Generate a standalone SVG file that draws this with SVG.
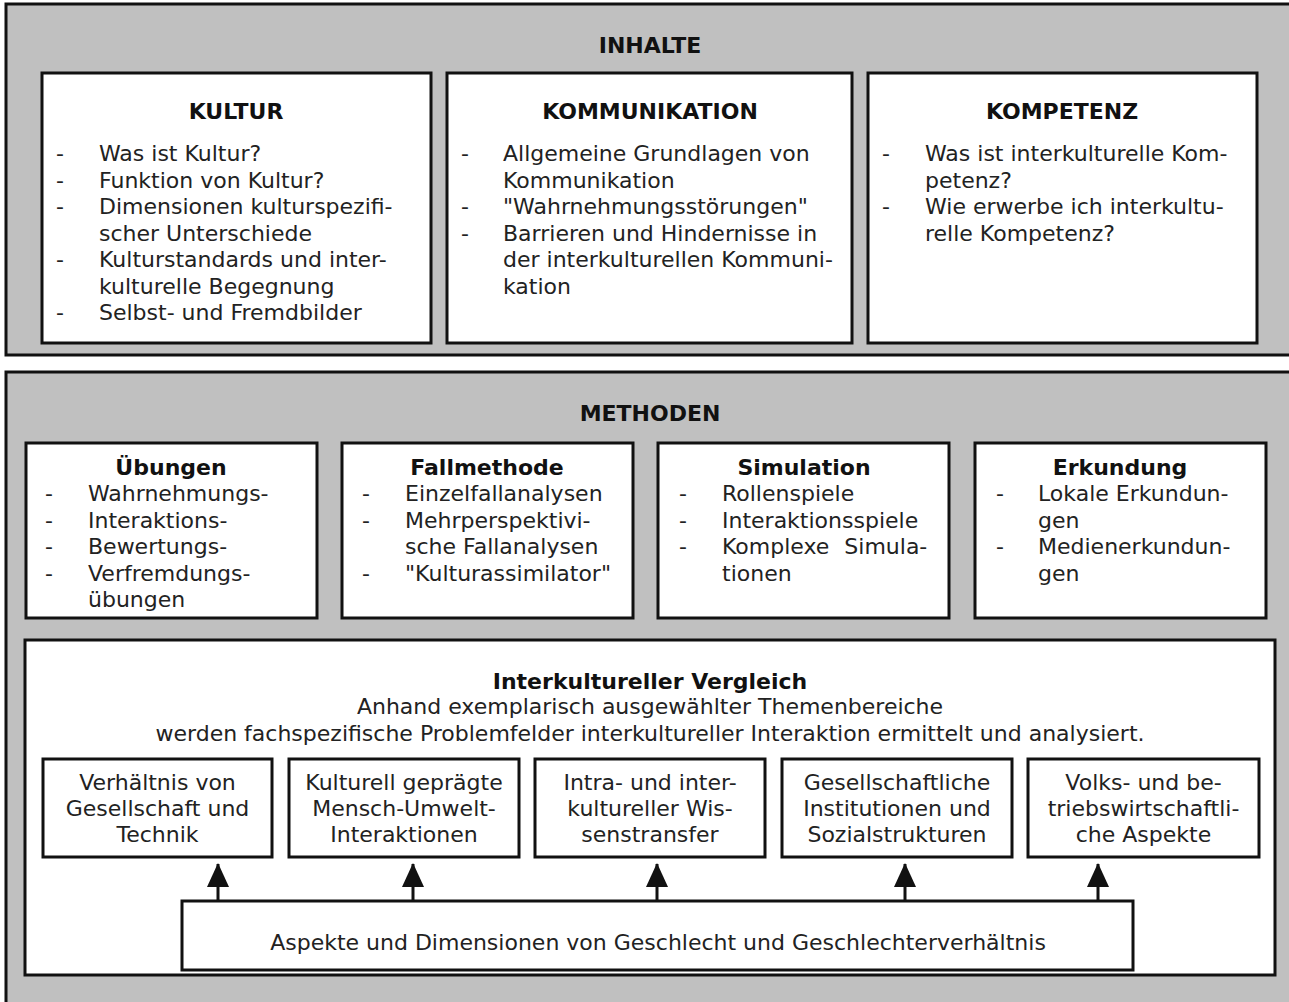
<svg xmlns="http://www.w3.org/2000/svg" width="1289" height="1002" viewBox="0 0 1289 1002">
<style>
.outer{fill:#c0c0c0;stroke:#111;stroke-width:3}
.box{fill:#fff;stroke:#111;stroke-width:3}
text{font-family:"DejaVu Sans","Verdana",sans-serif;font-size:22px;fill:#222}
.t{font-weight:bold;fill:#111;text-anchor:middle}
.c{text-anchor:middle}
.conn line{stroke:#111;stroke-width:3}
</style>
<defs>
<marker id="arr" markerUnits="userSpaceOnUse" markerWidth="24" markerHeight="22" refX="23" refY="11" orient="auto" viewBox="0 0 24 22">
<path d="M0 0 L24 11 L0 22 Z" fill="#111"/>
</marker>
</defs>
<rect width="1289" height="1002" fill="#fff"/>

<g id="inhalte">
<rect class="outer" x="6" y="4" width="1300" height="351"/>
<text class="t" x="650" y="53">INHALTE</text>
</g>

<g id="kultur">
<rect class="box" x="42" y="73" width="389" height="270"/>
<text class="t" x="236" y="119">KULTUR</text>
<text x="56" y="161">-</text><text x="99" y="161">Was ist Kultur?</text>
<text x="56" y="187.5">-</text><text x="99" y="187.5">Funktion von Kultur?</text>
<text x="56" y="214">-</text><text x="99" y="214">Dimensionen kulturspezifi-</text>
<text x="99" y="240.5">scher Unterschiede</text>
<text x="56" y="267">-</text><text x="99" y="267">Kulturstandards und inter-</text>
<text x="99" y="293.5">kulturelle Begegnung</text>
<text x="56" y="320">-</text><text x="99" y="320">Selbst- und Fremdbilder</text>
</g>

<g id="kommunikation">
<rect class="box" x="447" y="73" width="405" height="270"/>
<text class="t" x="650" y="119">KOMMUNIKATION</text>
<text x="461" y="161">-</text><text x="503" y="161">Allgemeine Grundlagen von</text>
<text x="503" y="187.5">Kommunikation</text>
<text x="461" y="214">-</text><text x="503" y="214">"Wahrnehmungsstörungen"</text>
<text x="461" y="240.5">-</text><text x="503" y="240.5">Barrieren und Hindernisse in</text>
<text x="503" y="267">der interkulturellen Kommuni-</text>
<text x="503" y="293.5">kation</text>
</g>

<g id="kompetenz">
<rect class="box" x="868" y="73" width="389" height="270"/>
<text class="t" x="1062" y="119">KOMPETENZ</text>
<text x="882" y="161">-</text><text x="925" y="161">Was ist interkulturelle Kom-</text>
<text x="925" y="187.5">petenz?</text>
<text x="882" y="214">-</text><text x="925" y="214">Wie erwerbe ich interkultu-</text>
<text x="925" y="240.5">relle Kompetenz?</text>
</g>

<g id="methoden">
<rect class="outer" x="6" y="372" width="1300" height="700"/>
<text class="t" x="650" y="421">METHODEN</text>
</g>

<g id="uebungen">
<rect class="box" x="26" y="443" width="291" height="175"/>
<text class="t" x="171" y="475">Übungen</text>
<text x="45" y="501">-</text><text x="88" y="501">Wahrnehmungs-</text>
<text x="45" y="527.5">-</text><text x="88" y="527.5">Interaktions-</text>
<text x="45" y="554">-</text><text x="88" y="554">Bewertungs-</text>
<text x="45" y="580.5">-</text><text x="88" y="580.5">Verfremdungs-</text>
<text x="88" y="607">übungen</text>
</g>

<g id="fallmethode">
<rect class="box" x="342" y="443" width="291" height="175"/>
<text class="t" x="487" y="475">Fallmethode</text>
<text x="362" y="501">-</text><text x="405" y="501">Einzelfallanalysen</text>
<text x="362" y="527.5">-</text><text x="405" y="527.5">Mehrperspektivi-</text>
<text x="405" y="554">sche Fallanalysen</text>
<text x="362" y="580.5">-</text><text x="405" y="580.5">"Kulturassimilator"</text>
</g>

<g id="simulation">
<rect class="box" x="658" y="443" width="291" height="175"/>
<text class="t" x="804" y="475">Simulation</text>
<text x="679" y="501">-</text><text x="722" y="501">Rollenspiele</text>
<text x="679" y="527.5">-</text><text x="722" y="527.5">Interaktionsspiele</text>
<text x="679" y="554">-</text><text x="722" y="554" word-spacing="8">Komplexe Simula-</text>
<text x="722" y="580.5">tionen</text>
</g>

<g id="erkundung">
<rect class="box" x="975" y="443" width="291" height="175"/>
<text class="t" x="1120" y="475">Erkundung</text>
<text x="996" y="501">-</text><text x="1038" y="501">Lokale Erkundun-</text>
<text x="1038" y="527.5">gen</text>
<text x="996" y="554">-</text><text x="1038" y="554">Medienerkundun-</text>
<text x="1038" y="580.5">gen</text>
</g>

<g id="vergleich">
<rect class="box" x="25" y="640" width="1250" height="335"/>
<text class="t" x="650" y="689">Interkultureller Vergleich</text>
<text class="c" x="650" y="714">Anhand exemplarisch ausgewählter Themenbereiche</text>
<text class="c" x="650" y="741">werden fachspezifische Problemfelder interkultureller Interaktion ermittelt und analysiert.</text>
</g>

<g id="thema1">
<rect class="box" x="43" y="759" width="229" height="98"/>
<text class="c" x="157.5" y="790">Verhältnis von</text>
<text class="c" x="157.5" y="816">Gesellschaft und</text>
<text class="c" x="157.5" y="842">Technik</text>
</g>
<g id="thema2">
<rect class="box" x="289" y="759" width="230" height="98"/>
<text class="c" x="404" y="790">Kulturell geprägte</text>
<text class="c" x="404" y="816">Mensch-Umwelt-</text>
<text class="c" x="404" y="842">Interaktionen</text>
</g>
<g id="thema3">
<rect class="box" x="535" y="759" width="230" height="98"/>
<text class="c" x="650" y="790">Intra- und inter-</text>
<text class="c" x="650" y="816">kultureller Wis-</text>
<text class="c" x="650" y="842">senstransfer</text>
</g>
<g id="thema4">
<rect class="box" x="782" y="759" width="230" height="98"/>
<text class="c" x="897" y="790">Gesellschaftliche</text>
<text class="c" x="897" y="816">Institutionen und</text>
<text class="c" x="897" y="842">Sozialstrukturen</text>
</g>
<g id="thema5">
<rect class="box" x="1028" y="759" width="231" height="98"/>
<text class="c" x="1143.5" y="790">Volks- und be-</text>
<text class="c" x="1143.5" y="816">triebswirtschaftli-</text>
<text class="c" x="1143.5" y="842">che Aspekte</text>
</g>

<g id="geschlecht">
<rect class="box" x="182" y="901" width="951" height="69"/>
<text class="c" x="658" y="950">Aspekte und Dimensionen von Geschlecht und Geschlechterverhältnis</text>
</g>

<g class="conn" id="connectors">
<line x1="218" y1="901" x2="218" y2="864" marker-end="url(#arr)"/>
<line x1="413" y1="901" x2="413" y2="864" marker-end="url(#arr)"/>
<line x1="657" y1="901" x2="657" y2="864" marker-end="url(#arr)"/>
<line x1="905" y1="901" x2="905" y2="864" marker-end="url(#arr)"/>
<line x1="1098" y1="901" x2="1098" y2="864" marker-end="url(#arr)"/>
</g>
</svg>
